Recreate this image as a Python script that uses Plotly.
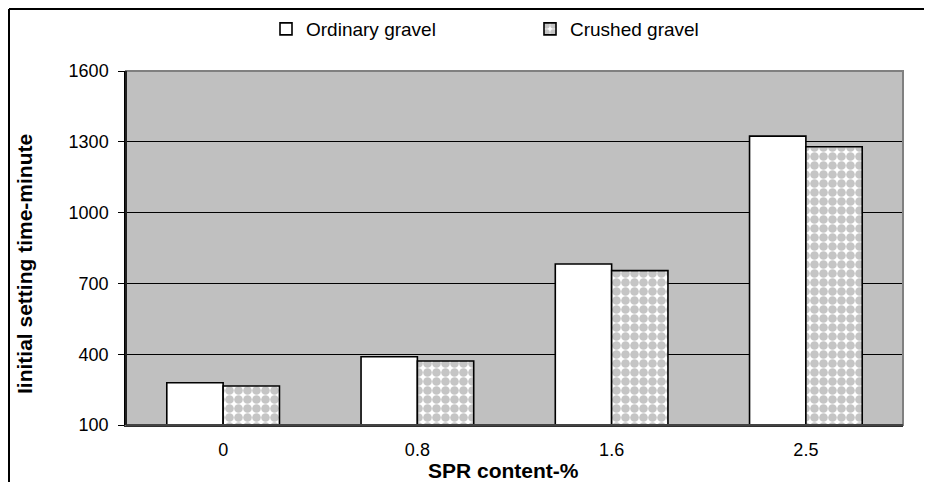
import plotly.graph_objects as go

categories = ["0", "0.8", "1.6", "2.5"]
ordinary = [279, 389, 782, 1324]
crushed = [265, 371, 754, 1279]
series_names = ["Ordinary gravel", "Crushed gravel"]
y_ticks = [100, 400, 700, 1000, 1300, 1600]
x_title = "<b>SPR content-%</b>"
y_title = "<b>Iinitial setting time-minute</b>"

# figure is placed by the page at an 8px body offset
W, H = 916, 474
ML, MR, MT, MB = 118, 21, 63, 57
PW, PH = W - ML - MR, H - MT - MB

def px_x(p):
    return (p - ML) / PW

def px_y(p):
    return 1 + (MT - p) / PH

fig = go.Figure()
fig.add_trace(go.Bar(
    x=categories, y=ordinary, name=series_names[0],
    marker=dict(color="white", line=dict(color="black", width=1.6)),
))
fig.add_trace(go.Bar(
    x=categories, y=crushed, name=series_names[1],
    marker=dict(
        color="white",
        line=dict(color="black", width=1.6),
        pattern=dict(shape=".", fgcolor="#8c8c8c", bgcolor="white", size=9, solidity=0.72, fillmode="overlay"),
    ),
))

font_family = "Liberation Sans, Arial, sans-serif"

fig.update_layout(
    width=W, height=H,
    margin=dict(l=ML, r=MR, t=MT, b=MB, autoexpand=False),
    paper_bgcolor="white",
    plot_bgcolor="#c0c0c0",
    barmode="group",
    bargap=0.42,
    bargroupgap=0,
    font=dict(family=font_family, color="black"),
    showlegend=True,
    legend=dict(
        orientation="h",
        x=px_x(258), xanchor="left",
        yref="container", y=1 - 21 / H, yanchor="middle",
        font=dict(size=19, family=font_family),
        entrywidth=219, entrywidthmode="pixels",
        bgcolor="rgba(0,0,0,0)",
        traceorder="normal",
    ),
    xaxis=dict(
        type="category",
        showline=True, linecolor="#303030", linewidth=1.5,
        showgrid=False,
        ticks="",
        tickfont=dict(size=18),
        ticklabelstandoff=8,
        automargin=False,
    ),
    yaxis=dict(
        range=[100, 1600],
        tickvals=y_ticks,
        showline=True, linecolor="black", linewidth=1.5,
        showgrid=True, gridcolor="black", gridwidth=1,
        ticks="outside", ticklen=6, tickcolor="black", tickwidth=1,
        tickfont=dict(size=18),
        ticklabelstandoff=6,
        automargin=False,
        zeroline=False,
    ),
    annotations=[
        dict(text=x_title, xref="paper", yref="paper", x=px_x(495), y=px_y(462),
             xanchor="center", yanchor="middle", showarrow=False, font=dict(size=21)),
        dict(text=y_title, xref="paper", yref="paper", x=px_x(16), y=px_y(256),
             xanchor="center", yanchor="middle", showarrow=False, textangle=-90, font=dict(size=21)),
    ],
    shapes=[
        dict(type="rect", xref="paper", yref="paper", x0=0, x1=1, y0=0, y1=1,
             line=dict(color="#808080", width=2), fillcolor="rgba(0,0,0,0)", layer="above"),
        dict(type="line", xref="paper", yref="paper", x0=0, x1=0, y0=0, y1=1,
             line=dict(color="black", width=1.5), layer="above"),
        dict(type="line", xref="paper", yref="paper", x0=0, x1=1, y0=0, y1=0,
             line=dict(color="#303030", width=1.5), layer="above"),
        dict(type="line", xref="paper", yref="paper", x0=px_x(1), x1=px_x(1), y0=px_y(1), y1=px_y(480),
             line=dict(color="black", width=2)),
        dict(type="line", xref="paper", yref="paper", x0=px_x(1), x1=px_x(920), y0=px_y(1), y1=px_y(1),
             line=dict(color="black", width=2)),
    ],
)

fig.write_html("out.html")
